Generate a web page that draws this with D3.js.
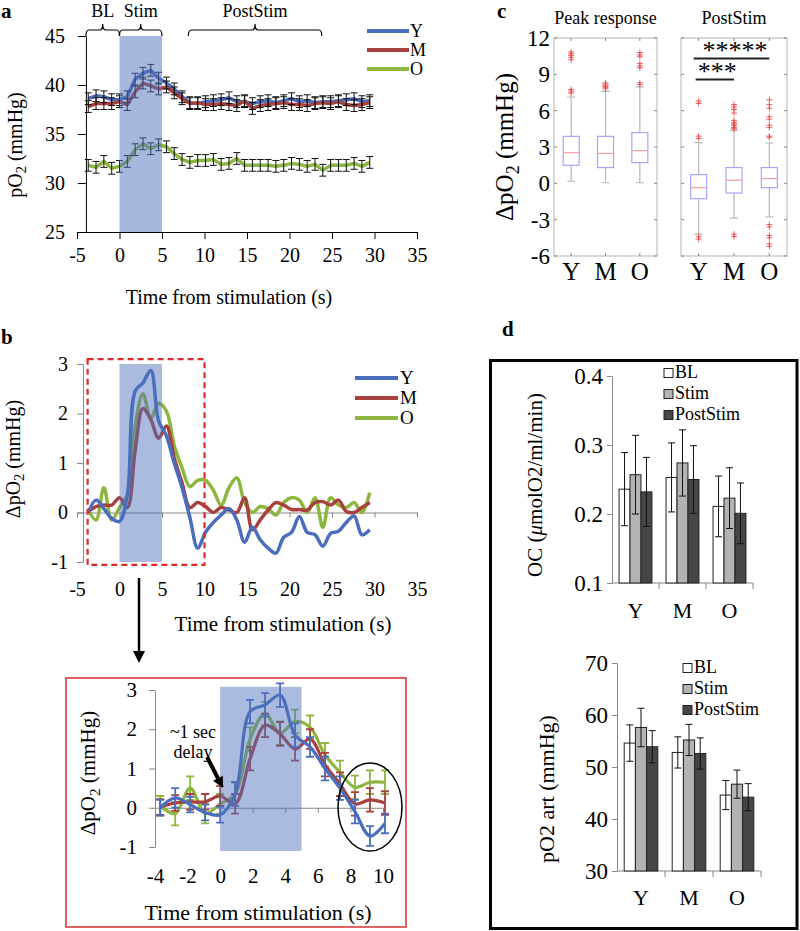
<!DOCTYPE html>
<html><head><meta charset="utf-8">
<script src="https://cdn.jsdelivr.net/npm/d3@7"></script>
<style>
body{margin:0;background:#fff}
svg{display:block}
text{font-family:"Liberation Serif","Times New Roman",serif;fill:#000}
</style>
</head><body>
<svg id="fig" width="800" height="931"></svg>
<script>
// ---------------- DATA ----------------
const groups = ["Y", "M", "O"];
const times = [-3.68,-2.76,-1.84,-0.92,0,0.92,1.84,2.76,3.68,4.6,5.52,6.44,7.36,8.28,9.2,10.12,11.04,11.96,12.88,13.8,14.72,15.64,16.56,17.48,18.4,19.32,20.24,21.16,22.08,23,23.92,24.84,25.76,26.68,27.6,28.52,29.44];

// panel a : absolute pO2 (mmHg)
const pO2Y = [38.6,38.9,38.8,38.5,38.5,38.8,40.6,41.2,41.5,40.7,40.2,39.6,38.8,38.2,38.1,38.3,38.4,38.5,38.7,38.3,38.3,38.1,38.3,38.4,38.2,38.4,38.6,38.3,38.4,38.2,38.3,38.3,38.4,38.5,38.6,38.3,38.4];
const pO2M = [37.8,38.1,38.1,38.1,38.3,38.0,39.3,40.2,39.9,39.6,39.8,39.2,38.6,38.1,38.2,38.0,38.0,38.1,38.0,37.9,38.4,37.6,37.9,38.0,38.1,38.2,38.0,38.0,37.9,38.1,38.2,38.1,38.3,38.0,37.9,38.0,38.2];
const pO2O = [31.8,31.6,32.2,31.5,31.7,32.2,33.4,34.0,33.5,33.9,33.7,33.0,32.4,32.1,32.3,32.3,32.4,31.9,32.0,32.5,31.8,31.8,31.8,31.8,31.7,31.8,32.0,31.9,31.7,31.9,31.3,31.8,31.8,31.8,32.0,31.7,32.1];
const pO2Err = [0.6, 0.6, 0.6];

// panel b : delta pO2 (mmHg)
const dY = [0.0,0.25,0.08,-0.12,-0.18,0.35,2.45,2.62,2.87,1.85,1.55,1.0,0.5,-0.1,-0.72,-0.4,-0.2,-0.05,0.08,-0.15,-0.6,-0.3,-0.55,-0.72,-0.82,-0.5,-0.4,-0.08,-0.4,-0.45,-0.68,-0.42,-0.38,-0.2,-0.07,-0.45,-0.35];
const dM = [0.02,0.12,0.15,0.15,0.3,0.1,1.25,2.1,1.88,1.5,1.75,1.1,0.6,0.1,0.2,0.12,0.0,0.1,0.05,0.0,0.3,-0.35,-0.15,0.05,0.2,0.15,0.06,0.06,0.05,0.2,0.22,0.15,0.25,0.02,0.0,0.1,0.2];
const dO = [0.05,-0.15,0.5,-0.15,0.1,0.35,1.75,2.4,1.9,2.2,2.05,1.35,0.9,0.52,0.65,0.65,0.45,0.15,0.5,0.7,0.2,0.0,0.12,0.08,-0.05,0.2,0.3,0.25,0.0,0.3,-0.3,0.3,0.15,0.1,0.2,0.0,0.4];
// inset error bars (first 16 samples, t <= 10)
const errY = [0.2,0.25,0.2,0.2,0.2,0.3,0.3,0.3,0.3,0.3,0.25,0.3,0.3,0.3,0.25,0.25];
const errM = [0.2,0.2,0.2,0.2,0.25,0.25,0.3,0.3,0.3,0.3,0.25,0.3,0.3,0.3,0.3,0.3];
const errO = [0.25,0.3,0.3,0.25,0.25,0.3,0.3,0.3,0.3,0.3,0.3,0.3,0.3,0.3,0.3,0.3];

// panel c : box plots
const peakQ1 = [1.49, 1.3, 1.71], peakMed = [2.53, 2.47, 2.7], peakQ3 = [3.88, 3.88, 4.19];
const peakLo = [0.17, 0.05, 0.05], peakHi = [7.13, 7.6, 7.96];
const peakOut = [[7.45,7.6,7.75,10.2,10.4,10.55,10.7,10.85],[7.8,7.9,8.0,8.1,8.2,8.3],[8.15,8.3,9.55,9.7,9.9,10.45,10.6,10.8]];
const postQ1 = [-1.27, -0.8, -0.36], postMed = [-0.36, 0.25, 0.39], postQ3 = [0.72, 1.3, 1.3];
const postLo = [-4.2, -2.87, -2.78], postHi = [3.36, 4.38, 3.33];
const postOut = [[3.7,3.9,6.6,6.8,-4.4,-4.6],[4.5,4.6,4.75,4.9,5.0,5.2,5.8,6.1,6.3,6.5,-4.2,-4.4],[3.8,3.9,4.6,4.8,5.3,5.5,6.2,6.5,6.9,-3.4,-3.6,-4.3,-4.5,-5.0,-5.2]];

// panel d : bars
const phases = ["BL", "Stim", "PostStim"];
const ocBL = [0.236, 0.253, 0.211], ocStim = [0.257, 0.274, 0.223], ocPost = [0.232, 0.25, 0.201];
const ocErrBL = [0.053, 0.05, 0.044], ocErrStim = [0.057, 0.048, 0.044], ocErrPost = [0.05, 0.049, 0.044];
const artBL = [54.6, 52.8, 44.6], artStim = [57.6, 55.2, 46.7], artPost = [53.9, 52.6, 44.2];
const artErrBL = [3.5, 3.0, 2.8], artErrStim = [3.7, 3.0, 2.7], artErrPost = [3.1, 3.0, 2.6];

// ticks
const aTicksY = [25, 30, 35, 40, 45];
const timeTicks = [-5, 0, 5, 10, 15, 20, 25, 30, 35];
const bTicksY = [-1, 0, 1, 2, 3];
const insetTicksX = [-4, -2, 0, 2, 4, 6, 8, 10];
const cTicks = [-6, -3, 0, 3, 6, 9, 12];
const ocTicks = [0.1, 0.2, 0.3, 0.4];
const artTicks = [30, 40, 50, 60, 70];
const bracketSpans = [[-3.95, 0], [0, 5], [8.1, 23.8]];
const bracketNames = ["BL", "Stim", "PostStim"];

// ---------------- STYLE ----------------
const lineColors = ["#4a6ebd", "#a8403d", "#8db63f"];
const stimFill = "#4f71be";
const phaseFill = ["#ffffff", "#b3b3b3", "#464646"];
const plain = d => String(d);
const svg = d3.select("#fig");
svg.append("rect").attr("width", 800).attr("height", 931).attr("fill", "#fff");

function styleAxis(g, size, color) {
  g.attr("font-family", null).attr("font-size", size);
  g.selectAll("path,line").attr("stroke", color).attr("stroke-width", 1);
  g.selectAll("text").attr("fill", "#000");
}
function rotLabel(x, y, size, pre, sub, post) {
  const t = svg.append("text").attr("transform", `translate(${x},${y}) rotate(-90)`)
    .attr("text-anchor", "middle").attr("font-size", size);
  t.append("tspan").text(pre);
  if (sub) t.append("tspan").text(sub).attr("font-size", size * 0.72).attr("dy", size * 0.22);
  if (post) t.append("tspan").text(post).attr("dy", sub ? -size * 0.22 : 0);
  return t;
}
function panelLetter(x, y, s) {
  svg.append("text").attr("x", x).attr("y", y).attr("font-size", 21).attr("font-weight", "bold").text(s);
}
function arrow(x1, y1, x2, y2, w, head) {
  const a = Math.atan2(y2 - y1, x2 - x1);
  const bx = x2 - head * Math.cos(a), by = y2 - head * Math.sin(a);
  svg.append("line").attr("x1", x1).attr("y1", y1).attr("x2", bx).attr("y2", by)
    .attr("stroke", "#000").attr("stroke-width", w);
  const px = Math.cos(a + Math.PI / 2) * head * 0.5, py = Math.sin(a + Math.PI / 2) * head * 0.5;
  svg.append("path").attr("d", `M${x2},${y2}L${bx + px},${by + py}L${bx - px},${by - py}Z`).attr("fill", "#000");
}

// ---------------- PANEL A ----------------
panelLetter(1, 18, "a");
const xA = d3.scaleLinear().domain([-5, 35]).range([77, 417]);
const yA = d3.scaleLinear().domain([25, 45]).range([232, 36]);
const seriesA = [pO2Y, pO2M, pO2O];
const lineA = d3.line().x((d, i) => xA(times[i])).y(d => yA(d));
seriesA.forEach((s, k) => {
  svg.append("path").attr("d", lineA(s)).attr("fill", "none")
    .attr("stroke", lineColors[k]).attr("stroke-width", 3.5).attr("stroke-linejoin", "round");
});
seriesA.forEach((s, k) => {
  const e = pO2Err[k];
  s.forEach((v, i) => {
    const x = xA(times[i]);
    svg.append("path").attr("d", `M${x},${yA(v - e)}V${yA(v + e)}M${x - 3.5},${yA(v - e)}H${x + 3.5}M${x - 3.5},${yA(v + e)}H${x + 3.5}`)
      .attr("stroke", "#111").attr("stroke-width", 1).attr("fill", "none");
  });
});
svg.append("rect").attr("x", xA(0)).attr("y", yA(45)).attr("width", xA(5) - xA(0)).attr("height", yA(25) - yA(45))
  .attr("fill", stimFill).attr("fill-opacity", 0.5);
styleAxis(svg.append("g").attr("transform", `translate(${xA(-3.95)},0)`)
  .call(d3.axisLeft(yA).tickValues(aTicksY).tickFormat(plain).tickSize(8).tickPadding(13).tickSizeOuter(0)), 20, "#000");
styleAxis(svg.append("g").attr("transform", `translate(0,${yA(25)})`)
  .call(d3.axisBottom(xA).tickValues(timeTicks).tickFormat(plain).tickSize(7).tickPadding(9).tickSizeOuter(0)), 20, "#000");
svg.append("text").attr("x", 229).attr("y", 304).attr("text-anchor", "middle").attr("font-size", 20).text("Time from stimulation (s)");
rotLabel(22, 145, 20, "pO", "2", " (mmHg)");
bracketSpans.forEach((sp, k) => {
  const x1 = xA(sp[0]), x2 = xA(sp[1]), xm = (x1 + x2) / 2;
  svg.append("path").attr("d", `M${x1},36Q${x1},30 ${x1 + 3},30L${xm - 3},30Q${xm},30 ${xm},24Q${xm},30 ${xm + 3},30L${x2 - 3},30Q${x2},30 ${x2},36`)
    .attr("fill", "none").attr("stroke", "#000").attr("stroke-width", 1.2);
  svg.append("text").attr("x", xm).attr("y", 17).attr("text-anchor", "middle").attr("font-size", 18).text(bracketNames[k]);
});
groups.forEach((g, k) => {
  const y = 31 + k * 19;
  svg.append("line").attr("x1", 367).attr("x2", 409).attr("y1", y).attr("y2", y).attr("stroke", lineColors[k]).attr("stroke-width", 4);
  svg.append("text").attr("x", 410).attr("y", y + 6).attr("font-size", 18).text(g);
});

// ---------------- PANEL B ----------------
panelLetter(1, 344, "b");
const xB = d3.scaleLinear().domain([-5, 35]).range([77, 417]);
const yB = d3.scaleLinear().domain([-1, 3]).range([562, 364]);
const seriesB = [dY, dM, dO];
styleAxis(svg.append("g").attr("transform", `translate(${xB(-4.3)},0)`)
  .call(d3.axisLeft(yB).tickValues(bTicksY).tickFormat(plain).tickSize(6).tickPadding(9).tickSizeOuter(0)), 20, "#888");
styleAxis(svg.append("g").attr("transform", `translate(0,${yB(0)})`)
  .call(d3.axisBottom(xB).tickValues(timeTicks).tickFormat(plain).tickSize(5).tickPadding(64).tickSizeOuter(0)), 20, "#888");
const lineB = d3.line().curve(d3.curveCatmullRom.alpha(0.5)).x((d, i) => xB(times[i])).y(d => yB(d));
[2, 1, 0].forEach(k => {
  svg.append("path").attr("d", lineB(seriesB[k])).attr("fill", "none")
    .attr("stroke", lineColors[k]).attr("stroke-width", 3.5).attr("stroke-linejoin", "round");
});
svg.append("rect").attr("x", xB(0)).attr("y", yB(3)).attr("width", xB(5) - xB(0)).attr("height", yB(-1) - yB(3))
  .attr("fill", stimFill).attr("fill-opacity", 0.48);
svg.append("rect").attr("x", xB(-3.75)).attr("y", yB(3.1)).attr("width", xB(10) - xB(-3.75)).attr("height", yB(-1.06) - yB(3.1))
  .attr("fill", "none").attr("stroke", "#e02a2a").attr("stroke-width", 2.2).attr("stroke-dasharray", "6,4");
groups.forEach((g, k) => {
  const y = 378 + k * 20;
  svg.append("line").attr("x1", 355).attr("x2", 398).attr("y1", y).attr("y2", y).attr("stroke", lineColors[k]).attr("stroke-width", 4);
  svg.append("text").attr("x", 400).attr("y", y + 6).attr("font-size", 19).text(g);
});
svg.append("text").attr("x", 283).attr("y", 631).attr("text-anchor", "middle").attr("font-size", 21).text("Time from stimulation (s)");
rotLabel(20, 459, 20, "ΔpO", "2", " (mmHg)");
arrow(139, 578, 139, 663, 2.5, 12);

// ---------------- INSET ----------------
const nIn = errY.length;
const tIn = times.slice(0, nIn);
const xI = d3.scaleLinear().domain([-4, 10]).range([155, 383]);
const yI = d3.scaleLinear().domain([-1, 3]).range([847, 690]);
svg.append("rect").attr("x", 66).attr("y", 678).attr("width", 340).attr("height", 249)
  .attr("fill", "none").attr("stroke", "#d8302f").attr("stroke-width", 1.5);
styleAxis(svg.append("g").attr("transform", `translate(${xI(-4)},0)`)
  .call(d3.axisLeft(yI).tickValues(bTicksY).tickFormat(plain).tickSize(6).tickPadding(12).tickSizeOuter(0)), 21, "#888");
styleAxis(svg.append("g").attr("transform", `translate(0,${yI(0)})`)
  .call(d3.axisBottom(xI).tickValues(insetTicksX).tickFormat(plain).tickSize(5).tickPadding(55).tickSizeOuter(0)), 21, "#888");
const errIn = [errY, errM, errO];
const lineI = d3.line().curve(d3.curveCatmullRom.alpha(0.5)).x((d, i) => xI(tIn[i])).y(d => yI(d));
[2, 1, 0].forEach(k => {
  const s = seriesB[k].slice(0, nIn);
  svg.append("path").attr("d", lineI(s)).attr("fill", "none")
    .attr("stroke", lineColors[k]).attr("stroke-width", 3.2).attr("stroke-linejoin", "round");
  s.forEach((v, i) => {
    const x = xI(tIn[i]), e = errIn[k][i];
    svg.append("path").attr("d", `M${x},${yI(v - e)}V${yI(v + e)}M${x - 4},${yI(v - e)}H${x + 4}M${x - 4},${yI(v + e)}H${x + 4}`)
      .attr("stroke", lineColors[k]).attr("stroke-width", 1.8).attr("fill", "none");
  });
});
svg.append("rect").attr("x", xI(0)).attr("y", yI(3.08)).attr("width", xI(5) - xI(0)).attr("height", yI(-1.1) - yI(3.08))
  .attr("fill", stimFill).attr("fill-opacity", 0.48);
svg.append("text").attr("x", 258).attr("y", 920).attr("text-anchor", "middle").attr("font-size", 22).text("Time from stimulation (s)");
rotLabel(95, 773, 21, "ΔpO", "2", " (mmHg)");
svg.append("text").attr("x", 193).attr("y", 738).attr("text-anchor", "middle").attr("font-size", 18).text("~1 sec");
svg.append("text").attr("x", 193).attr("y", 758).attr("text-anchor", "middle").attr("font-size", 18).text("delay");
arrow(207, 757, 223, 788, 4, 11);
svg.append("ellipse").attr("cx", 370).attr("cy", 807).attr("rx", 32).attr("ry", 44)
  .attr("fill", "none").attr("stroke", "#000").attr("stroke-width", 1.5);

// ---------------- PANEL C ----------------
panelLetter(497, 18, "c");
const yC = d3.scaleLinear().domain([-6, 12]).range([256, 38]);
const boxPanels = [
  {x0: 554, x1: 657, q1: peakQ1, med: peakMed, q3: peakQ3, lo: peakLo, hi: peakHi, out: peakOut, title: "Peak response", labels: true},
  {x0: 681, x1: 787, q1: postQ1, med: postMed, q3: postQ3, lo: postLo, hi: postHi, out: postOut, title: "PostStim", labels: false}
];
boxPanels.forEach(p => {
  const xc = d3.scalePoint().domain(groups).range([p.x0, p.x1]).padding(0.5);
  svg.append("rect").attr("x", p.x0).attr("y", yC(12)).attr("width", p.x1 - p.x0).attr("height", yC(-6) - yC(12))
    .attr("fill", "none").attr("stroke", "#b5b5b5").attr("stroke-width", 1);
  cTicks.forEach(t => {
    svg.append("line").attr("x1", p.x0).attr("x2", p.x0 + 3).attr("y1", yC(t)).attr("y2", yC(t)).attr("stroke", "#888");
    svg.append("line").attr("x1", p.x1 - 3).attr("x2", p.x1).attr("y1", yC(t)).attr("y2", yC(t)).attr("stroke", "#888");
    if (p.labels) svg.append("text").attr("x", p.x0 - 4).attr("y", yC(t)).attr("dy", "0.35em")
      .attr("text-anchor", "end").attr("font-size", 23).text(plain(t));
  });
  groups.forEach((g, i) => {
    const x = xc(g), w = 16;
    svg.append("line").attr("x1", x).attr("x2", x).attr("y1", yC(12)).attr("y2", yC(12) + 3).attr("stroke", "#888");
    svg.append("line").attr("x1", x).attr("x2", x).attr("y1", yC(-6)).attr("y2", yC(-6) - 3).attr("stroke", "#888");
    svg.append("text").attr("x", x).attr("y", 280).attr("text-anchor", "middle").attr("font-size", 25).text(g);
    svg.append("path").attr("d", `M${x},${yC(p.q3[i])}V${yC(p.hi[i])}M${x - 4},${yC(p.hi[i])}H${x + 4}M${x},${yC(p.q1[i])}V${yC(p.lo[i])}M${x - 4},${yC(p.lo[i])}H${x + 4}`)
      .attr("stroke", "#b8b8b8").attr("stroke-width", 1.2).attr("fill", "none");
    svg.append("rect").attr("x", x - w / 2).attr("y", yC(p.q3[i])).attr("width", w).attr("height", yC(p.q1[i]) - yC(p.q3[i]))
      .attr("fill", "#fff").attr("stroke", "#a5a5ff").attr("stroke-width", 1.2);
    svg.append("line").attr("x1", x - w / 2).attr("x2", x + w / 2).attr("y1", yC(p.med[i])).attr("y2", yC(p.med[i]))
      .attr("stroke", "#f2a0a0").attr("stroke-width", 1.2);
    p.out[i].forEach(v => {
      const y = yC(v);
      svg.append("path").attr("d", `M${x - 3},${y}H${x + 3}M${x},${y - 3}V${y + 3}`)
        .attr("stroke", "#ee3b3b").attr("stroke-width", 1).attr("fill", "none").attr("opacity", 0.8);
    });
  });
  svg.append("text").attr("x", (p.x0 + p.x1) / 2).attr("y", 24).attr("text-anchor", "middle").attr("font-size", 18).text(p.title);
});
rotLabel(513, 147, 25, "ΔpO", "2", " (mmHg)");
{
  const xc = d3.scalePoint().domain(groups).range([681, 787]).padding(0.5);
  svg.append("line").attr("x1", xc("Y") - 5).attr("x2", xc("O")).attr("y1", 58.5).attr("y2", 58.5).attr("stroke", "#222").attr("stroke-width", 2);
  svg.append("text").attr("x", (xc("Y") + xc("O")) / 2 + 1).attr("y", 59).attr("text-anchor", "middle").attr("font-size", 26).text("*****");
  svg.append("line").attr("x1", xc("Y") - 3).attr("x2", xc("M")).attr("y1", 79.5).attr("y2", 79.5).attr("stroke", "#222").attr("stroke-width", 2);
  svg.append("text").attr("x", (xc("Y") + xc("M")) / 2 + 1).attr("y", 80).attr("text-anchor", "middle").attr("font-size", 26).text("***");
}

// ---------------- PANEL D ----------------
panelLetter(502, 336, "d");
svg.append("rect").attr("x", 490.5).attr("y", 360.5).attr("width", 306.5).attr("height", 568)
  .attr("fill", "none").attr("stroke", "#000").attr("stroke-width", 3);
function barChart(c) {
  const x = d3.scaleBand().domain(groups).range([c.x0, c.x1]).paddingInner(0.3).paddingOuter(0.15);
  const xs = d3.scaleBand().domain(phases).range([0, x.bandwidth()]);
  const y = d3.scaleLinear().domain(c.domain).range([c.yb, c.yt]);
  styleAxis(svg.append("g").attr("transform", `translate(${c.x0},0)`)
    .call(d3.axisLeft(y).tickValues(c.ticks).tickFormat(c.fmt).tickSize(5).tickPadding(4).tickSizeOuter(0)), 23, "#888");
  svg.append("line").attr("x1", c.x0).attr("x2", c.x1).attr("y1", c.yb).attr("y2", c.yb).attr("stroke", "#888");
  [1, 2, 3].forEach(j => {
    const xx = c.x0 + (c.x1 - c.x0) * j / 3;
    svg.append("line").attr("x1", xx).attr("x2", xx).attr("y1", c.yb).attr("y2", c.yb + 6).attr("stroke", "#888");
  });
  groups.forEach((g, i) => {
    phases.forEach((ph, j) => {
      const v = c.vals[j][i], e = c.errs[j][i];
      const bx = x(g) + xs(ph), bw = xs.bandwidth();
      svg.append("rect").attr("x", bx).attr("y", y(v)).attr("width", bw).attr("height", y(c.domain[0]) - y(v))
        .attr("fill", phaseFill[j]).attr("stroke", "#222").attr("stroke-width", 1);
      const cx = bx + bw / 2;
      svg.append("path").attr("d", `M${cx},${y(v - e)}V${y(v + e)}M${cx - 3.5},${y(v - e)}H${cx + 3.5}M${cx - 3.5},${y(v + e)}H${cx + 3.5}`)
        .attr("stroke", "#111").attr("stroke-width", 1).attr("fill", "none");
    });
    svg.append("text").attr("x", x(g) + x.bandwidth() / 2).attr("y", c.catY).attr("text-anchor", "middle").attr("font-size", 22).text(g);
  });
  phases.forEach((ph, j) => {
    const ly = c.legY + j * 21;
    svg.append("rect").attr("x", c.legX).attr("y", ly - 9.5).attr("width", 9).attr("height", 9)
      .attr("fill", phaseFill[j]).attr("stroke", "#222").attr("stroke-width", 1);
    svg.append("text").attr("x", c.legX + 11).attr("y", ly).attr("font-size", 18).text(ph);
  });
}
barChart({x0: 612, x1: 753, yt: 376, yb: 583, domain: [0.1, 0.4], ticks: ocTicks, fmt: d3.format(".1f"),
  vals: [ocBL, ocStim, ocPost], errs: [ocErrBL, ocErrStim, ocErrPost], catY: 618, legX: 664, legY: 378});
barChart({x0: 617, x1: 761, yt: 663, yb: 871, domain: [30, 70], ticks: artTicks, fmt: plain,
  vals: [artBL, artStim, artPost], errs: [artErrBL, artErrStim, artErrPost], catY: 905, legX: 683, legY: 673});
{
  const t = svg.append("text").attr("transform", "translate(542,485) rotate(-90)").attr("text-anchor", "middle").attr("font-size", 21);
  t.append("tspan").text("OC (");
  t.append("tspan").text("μ").attr("font-style", "italic");
  t.append("tspan").text("molO2/ml/min)");
}
rotLabel(554, 789, 22, "pO2 art (mmHg)");
</script>
</body></html>
